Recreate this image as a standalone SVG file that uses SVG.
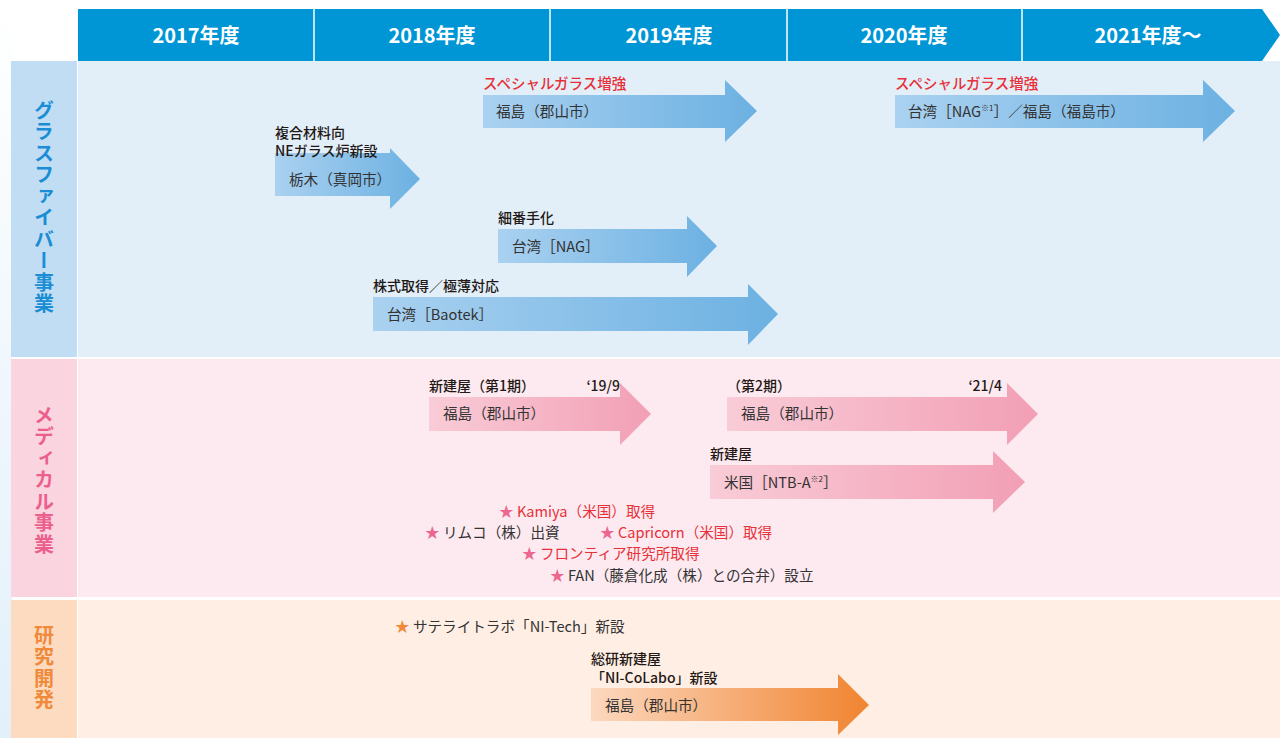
<svg xmlns="http://www.w3.org/2000/svg" width="1280" height="738" viewBox="0 0 1280 738">
<defs>
<linearGradient id="gBlue" x1="0" y1="0" x2="1" y2="0"><stop offset="0" stop-color="#AAD1F0"/><stop offset="1" stop-color="#6CB1E2"/></linearGradient>
<linearGradient id="gPink" x1="0" y1="0" x2="1" y2="0"><stop offset="0" stop-color="#F9CCD7"/><stop offset="1" stop-color="#F29FB5"/></linearGradient>
<linearGradient id="gOrange" x1="0" y1="0" x2="1" y2="0"><stop offset="0" stop-color="#FCD8BF"/><stop offset="1" stop-color="#F08430"/></linearGradient>
<linearGradient id="gLeft" x1="0" y1="0" x2="0" y2="1"><stop offset="0" stop-color="#FFFFFF"/><stop offset="1" stop-color="#E2F0FA"/></linearGradient>
<style>
text{font-family:"Noto Sans CJK JP","Noto Sans",sans-serif;}
.hd{fill:#FFFFFF;font-size:20px;font-weight:bold;text-anchor:middle;}
.vl{font-size:20px;font-weight:bold;writing-mode:vertical-rl;letter-spacing:1.5px;}
.lb{fill:#231815;font-size:14px;font-weight:500;}
.red{fill:#E83038;font-size:14.5px;font-weight:500;}
.in{fill:#333333;font-size:14.6px;}
.st{font-size:14.6px;}
.pk{fill:#EC6790;}
.or{fill:#F08A3A;}
.rd{fill:#E83038;}
.dk{fill:#333333;}
.sup{font-size:8px;}
</style>
</defs>
<rect x="0" y="0" width="1280" height="738" fill="#FFFFFF"/>
<rect x="0" y="0" width="12" height="738" fill="url(#gLeft)"/>
<g id="header">
<path d="M78,9 H1262 L1280,35 L1262,61 H78 Z" fill="#0096D6"/>
<g stroke="#FFFFFF" stroke-width="1.5"><line x1="314" y1="9" x2="314" y2="61"/><line x1="550" y1="9" x2="550" y2="61"/><line x1="787" y1="9" x2="787" y2="61"/><line x1="1022" y1="9" x2="1022" y2="61"/></g>
<text class="hd" x="196" y="43">2017年度</text>
<text class="hd" x="432" y="43">2018年度</text>
<text class="hd" x="669" y="43">2019年度</text>
<text class="hd" x="904" y="43">2020年度</text>
<text class="hd" x="1148" y="43">2021年度〜</text>
</g>
<g id="row-glass">
<rect x="11" y="61" width="66" height="296" fill="#C0DDF3"/>
<rect x="78" y="61" width="1202" height="296" fill="#E2EFF9"/>
<text class="vl" x="44" y="100" fill="#1A8DD5">グラスファイバー事業</text>
</g>
<g id="row-medical">
<rect x="11" y="359" width="66" height="238" fill="#FAD4DF"/>
<rect x="78" y="359" width="1202" height="238" fill="#FDEAF0"/>
<text class="vl" x="44" y="405" fill="#EC5F8D">メディカル事業</text>
</g>
<g id="row-rd">
<rect x="11" y="600" width="66" height="138" fill="#FDDBC0"/>
<rect x="78" y="600" width="1202" height="138" fill="#FEEEE4"/>
<text class="vl" x="44" y="625" fill="#F08A3A">研究開発</text>
</g>
<g id="connectors">
<polygon id="a1" points="483,95 725,95 725,80 757,111 725,142 725,128 483,128" fill="url(#gBlue)"/>
<polygon id="a2" points="895,95 1203,95 1203,80 1235,111 1203,142 1203,128 895,128" fill="url(#gBlue)"/>
<polygon id="a3" points="275,153 390,153 390,148 420,179 390,209 390,196 275,196" fill="url(#gBlue)"/>
<polygon id="a4" points="498,229 687,229 687,216 717,246 687,277 687,263 498,263" fill="url(#gBlue)"/>
<polygon id="a5" points="373,297 748,297 748,284 778,314 748,345 748,331 373,331" fill="url(#gBlue)"/>
<polygon id="m1" points="429,397 620,397 620,383 651,414 620,445 620,431 429,431" fill="url(#gPink)"/>
<polygon id="m2" points="727,397 1007,397 1007,383 1038,414 1007,445 1007,431 727,431" fill="url(#gPink)"/>
<polygon id="m3" points="710,465 993,465 993,451 1025,482 993,513 993,499 710,499" fill="url(#gPink)"/>
<polygon id="r1" points="591,688 838,688 838,674 869,705 838,735 838,721 591,721" fill="url(#gOrange)"/>
</g>
<g id="n-glass1">
<text class="red" x="483" y="89">スペシャルガラス増強</text>
<text class="in" x="496" y="117">福島（郡山市）</text>
</g>
<g id="n-glass2">
<text class="red" x="895" y="89">スペシャルガラス増強</text>
<text class="in" x="908" y="117">台湾［NAG<tspan class="sup" dy="-6">※1</tspan><tspan dy="6">］／福島（福島市）</tspan></text>
</g>
<g id="n-glass3">
<text class="lb" x="275" y="138">複合材料向</text>
<text class="lb" x="275" y="156">NEガラス炉新設</text>
<text class="in" x="289" y="185">栃木（真岡市）</text>
</g>
<g id="n-glass4">
<text class="lb" x="498" y="223">細番手化</text>
<text class="in" x="512" y="252">台湾［NAG］</text>
</g>
<g id="n-glass5">
<text class="lb" x="373" y="291">株式取得／極薄対応</text>
<text class="in" x="387" y="320">台湾［Baotek］</text>
</g>
<g id="n-med1">
<text class="lb" x="429" y="391">新建屋（第1期）</text>
<text class="lb" x="620" y="391" text-anchor="end">‘19/9</text>
<text class="in" x="443" y="419">福島（郡山市）</text>
</g>
<g id="n-med2">
<text class="lb" x="727" y="391">（第2期）</text>
<text class="lb" x="1002" y="391" text-anchor="end">‘21/4</text>
<text class="in" x="741" y="419">福島（郡山市）</text>
</g>
<g id="n-med3">
<text class="lb" x="710" y="459">新建屋</text>
<text class="in" x="724" y="488">米国［NTB-A<tspan class="sup" dy="-6">※2</tspan><tspan dy="6">］</tspan></text>
</g>
<g id="n-med-events">
<text class="st" x="499" y="517"><tspan class="pk">★</tspan><tspan class="rd"> Kamiya（米国）取得</tspan></text>
<text class="st" x="425" y="538"><tspan class="pk">★</tspan><tspan class="dk"> リムコ（株）出資</tspan></text>
<text class="st" x="600" y="538"><tspan class="pk">★</tspan><tspan class="rd"> Capricorn（米国）取得</tspan></text>
<text class="st" x="522" y="559"><tspan class="pk">★</tspan><tspan class="rd"> フロンティア研究所取得</tspan></text>
<text class="st" x="550" y="581"><tspan class="pk">★</tspan><tspan class="dk"> FAN（藤倉化成（株）との合弁）設立</tspan></text>
</g>
<g id="n-rd1">
<text class="st" x="395" y="632"><tspan class="or">★</tspan><tspan class="dk"> サテライトラボ「NI-Tech」新設</tspan></text>
</g>
<g id="n-rd2">
<text class="lb" x="591" y="664">総研新建屋</text>
<text class="lb" x="591" y="683">「NI-CoLabo」新設</text>
<text class="in" x="605" y="711">福島（郡山市）</text>
</g>
</svg>
